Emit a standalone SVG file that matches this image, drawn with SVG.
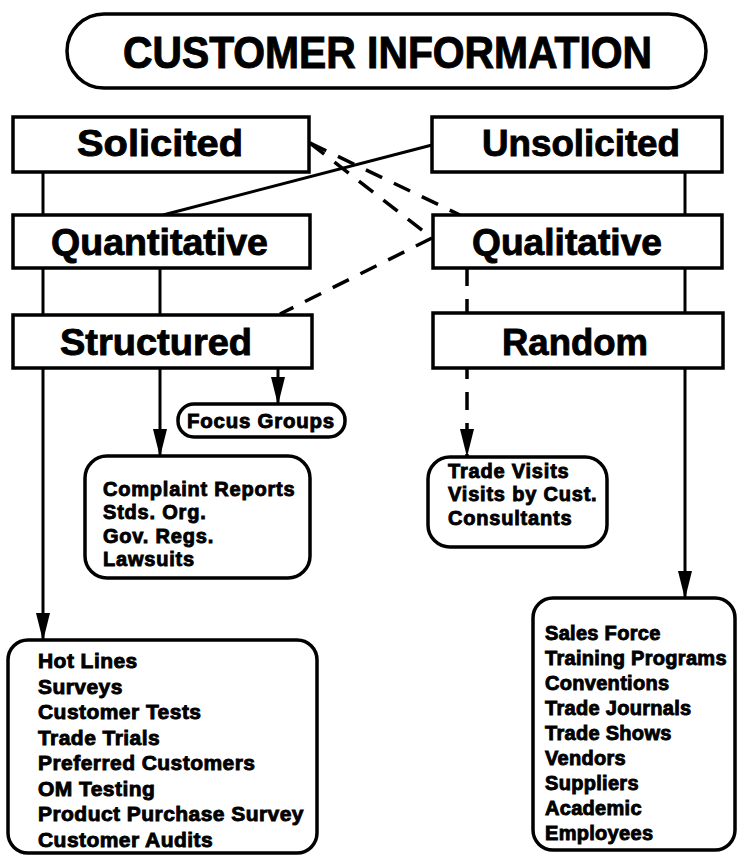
<svg xmlns="http://www.w3.org/2000/svg" width="737" height="855" viewBox="0 0 737 855">
<defs>
<style>
.box{fill:#fff;stroke:#000;stroke-width:3.5}
.ln{fill:none;stroke:#000;stroke-width:3}
.dash{fill:none;stroke:#000;stroke-width:3.5;stroke-dasharray:18 13}
.t{font-family:"Liberation Sans",Arial,sans-serif;font-weight:bold;fill:#000;stroke:#000}
.big{font-size:37px;stroke-width:0.9}
.lst{font-size:20px;stroke-width:0.9;letter-spacing:0.8px}
.lst2{font-size:21px;stroke-width:0.9;letter-spacing:0.45px}
.lst3{font-size:20px;stroke-width:0.9;letter-spacing:0.3px}
</style>
<marker id="ah" markerUnits="userSpaceOnUse" markerWidth="28" markerHeight="14" refX="27" refY="7" orient="auto">
<path d="M0,0 L28,7 L0,14 z" fill="#000"/>
</marker>
</defs>
<rect width="737" height="855" fill="#fff"/>
<g id="connectors">
<line class="ln" x1="43" y1="172" x2="43" y2="215"/>
<line class="ln" x1="685" y1="172" x2="685" y2="215"/>
<line class="ln" x1="43" y1="268" x2="43" y2="315"/>
<line class="ln" x1="160" y1="268" x2="160" y2="315"/>
<line class="ln" x1="685" y1="268" x2="685" y2="313"/>
<line class="ln" x1="432" y1="145" x2="163" y2="215"/>
<line class="dash" x1="310" y1="143" x2="460" y2="215"/>
<line class="dash" x1="310" y1="143" x2="432" y2="238"/>
<line class="dash" x1="432" y1="238" x2="280" y2="314"/>
<line class="dash" x1="467" y1="268" x2="467" y2="456" marker-end="url(#ah)"/>
<line class="ln" x1="43" y1="368" x2="43" y2="640" marker-end="url(#ah)"/>
<line class="ln" x1="160" y1="368" x2="160" y2="456" marker-end="url(#ah)"/>
<line class="ln" x1="278" y1="368" x2="278" y2="404" marker-end="url(#ah)"/>
<line class="ln" x1="685" y1="368" x2="685" y2="598" marker-end="url(#ah)"/>
</g>
<g id="title">
<rect class="box" x="67" y="14" width="639" height="74" rx="37" stroke-width="4"/>
<text class="t" x="123" y="68" font-size="45" stroke-width="1" textLength="529" lengthAdjust="spacingAndGlyphs">CUSTOMER INFORMATION</text>
</g>
<g id="solicited">
<rect class="box" x="13" y="117" width="296" height="55"/>
<text class="t big" x="77" y="156" textLength="166" lengthAdjust="spacingAndGlyphs">Solicited</text>
</g>
<g id="unsolicited">
<rect class="box" x="432" y="117" width="290" height="55"/>
<text class="t big" x="482" y="156" textLength="198" lengthAdjust="spacingAndGlyphs">Unsolicited</text>
</g>
<g id="quantitative">
<rect class="box" x="13" y="215" width="297" height="53"/>
<text class="t big" x="51" y="255" textLength="217" lengthAdjust="spacingAndGlyphs">Quantitative</text>
</g>
<g id="qualitative">
<rect class="box" x="433" y="215" width="289" height="53"/>
<text class="t big" x="472" y="255" textLength="190" lengthAdjust="spacingAndGlyphs">Qualitative</text>
</g>
<g id="structured">
<rect class="box" x="13" y="315" width="299" height="53"/>
<text class="t big" x="60" y="355" textLength="192" lengthAdjust="spacingAndGlyphs">Structured</text>
</g>
<g id="random">
<rect class="box" x="433" y="313" width="290" height="55"/>
<text class="t big" x="502" y="355" textLength="146" lengthAdjust="spacingAndGlyphs">Random</text>
</g>
<g id="focus-groups">
<rect class="box" x="178" y="404" width="167" height="33" rx="16"/>
<text class="t lst" x="187" y="428" font-size="19" textLength="148" lengthAdjust="spacingAndGlyphs">Focus Groups</text>
</g>
<g id="complaint">
<rect class="box" x="85" y="456" width="225" height="122" rx="22"/>
<text class="t lst" x="103" y="496">Complaint Reports</text>
<text class="t lst" x="103" y="519">Stds. Org.</text>
<text class="t lst" x="103" y="543">Gov. Regs.</text>
<text class="t lst" x="103" y="566">Lawsuits</text>
</g>
<g id="trade-visits">
<rect class="box" x="428" y="457" width="179" height="90" rx="22"/>
<text class="t lst" x="448" y="478">Trade Visits</text>
<text class="t lst" x="448" y="501">Visits by Cust.</text>
<text class="t lst" x="448" y="525">Consultants</text>
</g>
<g id="hot-lines">
<rect class="box" x="8" y="640" width="309" height="213" rx="20"/>
<text class="t lst2" x="38" y="668">Hot Lines</text>
<text class="t lst2" x="38" y="693.5">Surveys</text>
<text class="t lst2" x="38" y="719">Customer Tests</text>
<text class="t lst2" x="38" y="744.5">Trade Trials</text>
<text class="t lst2" x="38" y="770">Preferred Customers</text>
<text class="t lst2" x="38" y="795.5">OM Testing</text>
<text class="t lst2" x="38" y="821">Product Purchase Survey</text>
<text class="t lst2" x="38" y="846.5">Customer Audits</text>
</g>
<g id="sales-force">
<rect class="box" x="533" y="598" width="202" height="252" rx="20"/>
<text class="t lst3" x="545" y="640">Sales Force</text>
<text class="t lst3" x="545" y="665">Training Programs</text>
<text class="t lst3" x="545" y="690">Conventions</text>
<text class="t lst3" x="545" y="715">Trade Journals</text>
<text class="t lst3" x="545" y="740">Trade Shows</text>
<text class="t lst3" x="545" y="765">Vendors</text>
<text class="t lst3" x="545" y="790">Suppliers</text>
<text class="t lst3" x="545" y="815">Academic</text>
<text class="t lst3" x="545" y="840">Employees</text>
</g>
</svg>
